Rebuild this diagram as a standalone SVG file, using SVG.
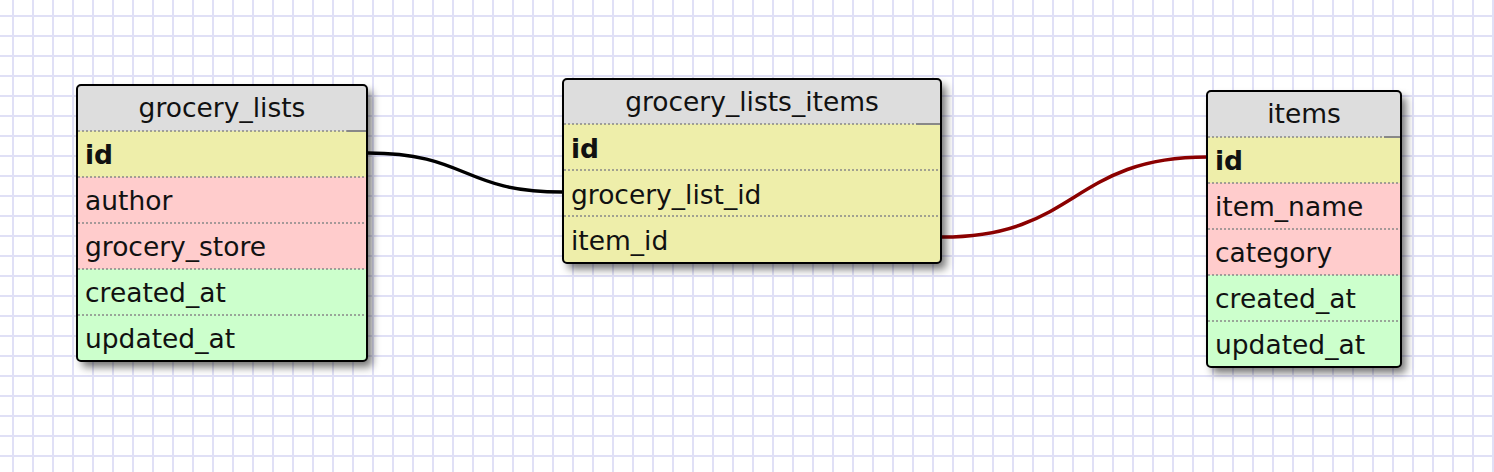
<svg xmlns="http://www.w3.org/2000/svg" width="1494" height="472" viewBox="0 0 1494 472">
  <defs>
    <pattern id="grid" patternUnits="userSpaceOnUse" x="0" y="0" width="20" height="20">
      <rect x="12" y="0" width="2" height="20" fill="#e0e0f6"/>
      <rect x="0" y="15" width="20" height="2" fill="#e0e0f6"/>
    </pattern>
    <filter id="blur" x="-10%" y="-10%" width="130%" height="130%">
      <feGaussianBlur stdDeviation="4.5"/>
    </filter>
    <clipPath id="c1"><rect x="77" y="85" width="290" height="276" rx="4"/></clipPath>
    <clipPath id="c2"><rect x="563" y="79" width="378" height="184" rx="4"/></clipPath>
    <clipPath id="c3"><rect x="1207" y="91" width="194" height="276" rx="4"/></clipPath>
  </defs>
  <style>
    .title { font-family: "DejaVu Sans", Verdana, sans-serif; font-size: 26.5px; fill: #111; text-anchor: middle; }
    .field { font-family: "DejaVu Sans", Verdana, sans-serif; font-size: 26.5px; fill: #111; }
    .pk { font-weight: bold; }
    .hdr { fill: #dddddd; }
    .key { fill: #eeeeaa; }
    .pink { fill: #ffcccc; }
    .green { fill: #ccffcc; }
    .sep { stroke: #888; stroke-width: 1.5; stroke-dasharray: 2 2; fill: none; }
    .hsep { stroke: #888; stroke-width: 2; fill: none; }
    .border { fill: none; stroke: #000; stroke-width: 2; }
    .shadow { fill: #000; opacity: 0.55; filter: url(#blur); }
    .conn { fill: none; stroke-width: 3.5; }
  </style>
  <rect width="1494" height="472" fill="#ffffff"/>
  <rect width="1494" height="472" fill="url(#grid)"/>

  <g id="connectors">
    <path class="conn" stroke="#000000" d="M368,153 C468,153 462,192 562,192"/>
    <path class="conn" stroke="#8b0000" d="M942,237 C1078,237 1071,157 1207,157"/>
  </g>

  <g id="grocery_lists">
    <rect class="shadow" x="82" y="91" width="290" height="276" rx="4"/>
    <g clip-path="url(#c1)">
      <rect class="hdr" x="77" y="85" width="290" height="46"/>
      <rect class="key" x="77" y="131" width="290" height="46"/>
      <rect class="pink" x="77" y="177" width="290" height="92"/>
      <rect class="green" x="77" y="269" width="290" height="92"/>
    </g>
    <line class="sep" x1="78" y1="131" x2="347" y2="131"/>
    <line class="hsep" x1="347" y1="131" x2="367" y2="131"/>
    <line class="sep" x1="78" y1="177" x2="366" y2="177"/>
    <line class="sep" x1="78" y1="223" x2="366" y2="223"/>
    <line class="sep" x1="78" y1="269" x2="366" y2="269"/>
    <line class="sep" x1="78" y1="315" x2="366" y2="315"/>
    <rect class="border" x="77" y="85" width="290" height="276" rx="4"/>
    <text class="title" x="222" y="117">grocery_lists</text>
    <text class="field pk" x="85" y="164">id</text>
    <text class="field" x="85" y="210">author</text>
    <text class="field" x="85" y="256">grocery_store</text>
    <text class="field" x="85" y="302">created_at</text>
    <text class="field" x="85" y="348">updated_at</text>
  </g>

  <g id="grocery_lists_items">
    <rect class="shadow" x="568" y="85" width="378" height="184" rx="4"/>
    <g clip-path="url(#c2)">
      <rect class="hdr" x="563" y="79" width="378" height="45"/>
      <rect class="key" x="563" y="124" width="378" height="139"/>
    </g>
    <line class="sep" x1="564" y1="124" x2="916" y2="124"/>
    <line class="hsep" x1="916" y1="124" x2="941" y2="124"/>
    <line class="sep" x1="564" y1="170" x2="940" y2="170"/>
    <line class="sep" x1="564" y1="216" x2="940" y2="216"/>
    <rect class="border" x="563" y="79" width="378" height="184" rx="4"/>
    <text class="title" x="752" y="111">grocery_lists_items</text>
    <text class="field pk" x="571" y="158">id</text>
    <text class="field" x="571" y="204">grocery_list_id</text>
    <text class="field" x="571" y="250">item_id</text>
  </g>

  <g id="items">
    <rect class="shadow" x="1212" y="97" width="194" height="276" rx="4"/>
    <g clip-path="url(#c3)">
      <rect class="hdr" x="1207" y="91" width="194" height="46"/>
      <rect class="key" x="1207" y="137" width="194" height="46"/>
      <rect class="pink" x="1207" y="183" width="194" height="92"/>
      <rect class="green" x="1207" y="275" width="194" height="92"/>
    </g>
    <line class="sep" x1="1208" y1="137" x2="1384" y2="137"/>
    <line class="hsep" x1="1384" y1="137" x2="1401" y2="137"/>
    <line class="sep" x1="1208" y1="183" x2="1400" y2="183"/>
    <line class="sep" x1="1208" y1="229" x2="1400" y2="229"/>
    <line class="sep" x1="1208" y1="275" x2="1400" y2="275"/>
    <line class="sep" x1="1208" y1="321" x2="1400" y2="321"/>
    <rect class="border" x="1207" y="91" width="194" height="276" rx="4"/>
    <text class="title" x="1304" y="123">items</text>
    <text class="field pk" x="1215" y="170">id</text>
    <text class="field" x="1215" y="216">item_name</text>
    <text class="field" x="1215" y="262">category</text>
    <text class="field" x="1215" y="308">created_at</text>
    <text class="field" x="1215" y="354">updated_at</text>
  </g>
</svg>
